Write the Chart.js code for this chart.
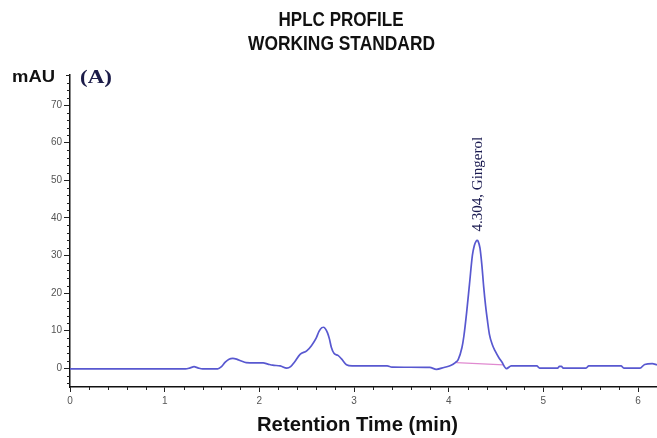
<!DOCTYPE html>
<html>
<head>
<meta charset="utf-8">
<script src="https://cdn.jsdelivr.net/npm/chart.js@4.4.0/dist/chart.umd.min.js"></script>
<style>
  html, body { margin: 0; padding: 0; background: #fff; }
  #wrap { width: 657px; height: 438px; }
</style>
</head>
<body>
<div id="wrap"><canvas id="hplc" width="657" height="438"></canvas></div>
<script>
'use strict';

// ─── Data ─────────────────────────────────────────────────────────
const titleLines = ['HPLC PROFILE', 'WORKING STANDARD'];
const xTitle = 'Retention Time (min)';
const yUnit = 'mAU';
const panelTag = '(A)';

const xTicks = [0, 1, 2, 3, 4, 5, 6];
const yTicks = [0, 10, 20, 30, 40, 50, 60, 70];

const timeMin = [
  0, 1.22, 1.27, 1.31, 1.35, 1.40, 1.56, 1.60, 1.64, 1.68,
  1.72, 1.76, 1.81, 1.86, 2.04, 2.09, 2.14, 2.22, 2.29, 2.33,
  2.37, 2.43, 2.50, 2.55, 2.60, 2.63, 2.66, 2.68, 2.70, 2.72,
  2.74, 2.76, 2.79, 2.83, 2.87, 2.92, 2.98, 3.35, 3.40, 3.80,
  3.87, 3.95, 4.02, 4.07, 4.10, 4.14, 4.16, 4.19, 4.22, 4.25,
  4.27, 4.29, 4.30, 4.31, 4.33, 4.35, 4.37, 4.39, 4.41, 4.43,
  4.46, 4.49, 4.53, 4.56, 4.61, 4.66, 4.93, 4.96, 5.15, 5.17,
  5.19, 5.21, 5.45, 5.48, 5.82, 5.85, 6.02, 6.07, 6.15, 6.20
];
const absorbance = [
  -0.2, -0.2, 0.1, 0.4, 0.1, -0.2, -0.2, 0.4, 1.6, 2.4,
  2.6, 2.4, 1.9, 1.5, 1.4, 1.1, 0.8, 0.6, 0.0, 0.4,
  1.6, 3.7, 4.6, 6.0, 8.0, 9.8, 10.8, 10.9, 10.4, 9.4,
  7.8, 5.6, 3.9, 3.4, 2.4, 0.9, 0.6, 0.6, 0.3, 0.2,
  -0.3, 0.2, 0.7, 1.5, 2.3, 5.5, 8.5, 15.0, 22.5, 30.0,
  32.6, 33.8, 34.0, 33.8, 32.0, 27.5, 21.5, 16.5, 12.5, 9.0,
  6.3, 4.6, 2.8, 1.7, -0.1, 0.6, 0.6, 0.0, 0.0, 0.5,
  0.5, 0.0, 0.0, 0.6, 0.6, 0.0, 0.0, 1.0, 1.2, 0.9
];

// integration baseline under the Gingerol peak
const baseTime = [4.08, 4.58];
const baseValue = [1.5, 0.9];

const peakTime = 4.30;
const peakValue = 34.0;
const peakLabel = '4.304, Gingerol';

// ─── Helpers ──────────────────────────────────────────────────────
// draw text squeezed/stretched to a given width (the original uses a narrow bold face)
function fitText(ctx, text, cx, cy, font, width, color) {
  ctx.save();
  ctx.font = font;
  ctx.fillStyle = color;
  ctx.textAlign = 'center';
  ctx.textBaseline = 'middle';
  const w = ctx.measureText(text).width;
  ctx.translate(cx, cy);
  ctx.scale(width / w, 1);
  ctx.fillText(text, 0, 0);
  ctx.restore();
}

const decorPlugin = {
  id: 'decor',
  afterDraw(chart) {
    const { ctx, scales: { x, y } } = chart;

    // minor ticks
    ctx.save();
    ctx.strokeStyle = '#222';
    ctx.lineWidth = 1;
    ctx.beginPath();
    for (let i = 1; i <= 31; i++) {
      const v = i * 0.2;
      if (Math.abs(v - Math.round(v)) < 1e-6) continue;
      const px = Math.round(x.getPixelForValue(v)) + 0.5;
      ctx.moveTo(px, y.bottom);
      ctx.lineTo(px, y.bottom + 3);
    }
    for (let v = -4; v <= 78; v += 2) {
      if (v % 10 === 0) continue;
      const py = Math.round(y.getPixelForValue(v)) + 0.5;
      ctx.moveTo(x.left - 3, py);
      ctx.lineTo(x.left, py);
    }
    ctx.moveTo(x.left - 4, y.top + 0.5);
    ctx.lineTo(x.left, y.top + 0.5);
    ctx.stroke();
    ctx.restore();

    // titles and labels
    fitText(ctx, titleLines[0], 341, 20.5, 'bold 20px "Liberation Sans", Arial, sans-serif', 125, '#111');
    fitText(ctx, titleLines[1], 341.5, 44.5, 'bold 20px "Liberation Sans", Arial, sans-serif', 187, '#111');
    fitText(ctx, yUnit, 33.5, 78, 'bold 16px "Liberation Sans", Arial, sans-serif', 43, '#111');
    fitText(ctx, panelTag, 96, 78, 'bold 19px "Liberation Serif", "Times New Roman", serif', 32, '#1b1b48');
    fitText(ctx, xTitle, 357.5, 425, 'bold 21px "Liberation Sans", Arial, sans-serif', 201, '#111');

    // peak annotation, rotated
    const px = x.getPixelForValue(peakTime);
    const py = y.getPixelForValue(peakValue);
    ctx.save();
    ctx.translate(px + 1, py - 9);
    ctx.rotate(-Math.PI / 2);
    ctx.font = '15px "Liberation Serif", "Times New Roman", serif';
    ctx.fillStyle = '#1a1a50';
    ctx.textAlign = 'left';
    ctx.textBaseline = 'middle';
    ctx.fillText(peakLabel, 0, 0);
    ctx.restore();
  }
};

// ─── Chart ────────────────────────────────────────────────────────
const trace = timeMin.map((t, i) => ({ x: t, y: absorbance[i] }));
const baseLine = baseTime.map((t, i) => ({ x: t, y: baseValue[i] }));

const tickFont = { family: '"Liberation Sans", Arial, sans-serif', size: 10 };

new Chart(document.getElementById('hplc').getContext('2d'), {
  type: 'line',
  data: {
    datasets: [
      {
        label: 'Integration baseline',
        data: baseLine,
        borderColor: '#e08ad0',
        borderWidth: 1.3,
        pointRadius: 0,
        order: 2,
      },
      {
        label: 'Signal',
        data: trace,
        borderColor: '#5858d0',
        borderWidth: 1.7,
        pointRadius: 0,
        cubicInterpolationMode: 'monotone',
        order: 1,
      },
    ],
  },
  options: {
    responsive: false,
    devicePixelRatio: 1,
    animation: false,
    layout: { padding: { top: 75, left: 0, right: 0, bottom: 0 } },
    plugins: {
      legend: { display: false },
      tooltip: { enabled: false },
      title: { display: false },
    },
    scales: {
      x: {
        type: 'linear',
        min: 0,
        max: 6.2,
        afterBuildTicks: s => { s.ticks = xTicks.map(v => ({ value: v })); },
        afterFit: s => { s.height = 51; },
        grid: { drawOnChartArea: false, drawTicks: true, tickLength: 5, color: '#222' },
        border: { display: true, color: '#111', width: 1.5 },
        ticks: { color: '#555', font: tickFont, padding: 3, maxRotation: 0, autoSkip: false },
      },
      y: {
        min: -5,
        max: 78,
        afterBuildTicks: s => { s.ticks = yTicks.map(v => ({ value: v })); },
        afterFit: s => { s.width = 70; },
        grid: { drawOnChartArea: false, drawTicks: true, tickLength: 6, color: '#222' },
        border: { display: true, color: '#111', width: 1.5 },
        ticks: { color: '#555', font: tickFont, padding: 2 },
      },
    },
  },
  plugins: [decorPlugin],
});
</script>
</body>
</html>
